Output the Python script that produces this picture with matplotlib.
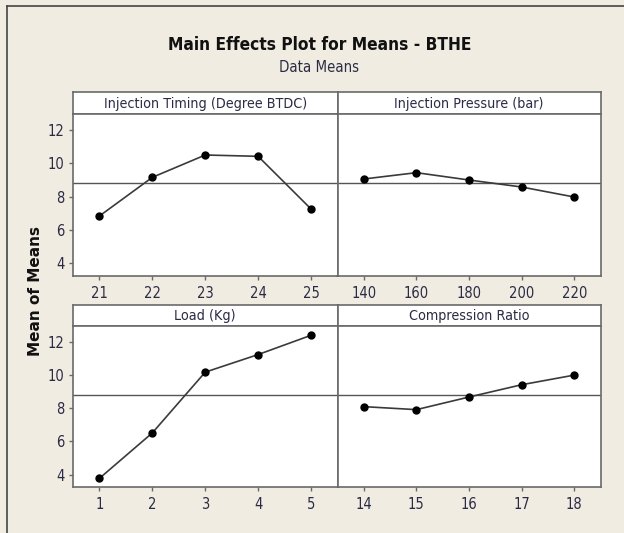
import numpy as np
import matplotlib
matplotlib.use("Agg")
import matplotlib.pyplot as plt
from matplotlib import font_manager
from matplotlib.font_manager import FontProperties
from matplotlib.lines import Line2D

# ---- data ----
timing_levels = [21, 22, 23, 24, 25]
timing_means = [6.84, 9.16, 10.50, 10.42, 7.26]
pressure_levels = [140, 160, 180, 200, 220]
pressure_means = [9.06, 9.44, 9.00, 8.58, 7.98]
load_levels = [1, 2, 3, 4, 5]
load_means = [3.78, 6.52, 10.18, 11.24, 12.40]
cr_levels = [14, 15, 16, 17, 18]
cr_means = [8.10, 7.92, 8.68, 9.42, 10.00]
factor_names = ["Injection Timing (Degree BTDC)", "Injection Pressure (bar)",
                "Load (Kg)", "Compression Ratio"]
y_ticks = [4, 6, 8, 10, 12]

grand_mean = np.mean(timing_means + pressure_means + load_means + cr_means)

# ---- pick a narrow font if one is installed ----
entries = font_manager.fontManager.ttflist
fam, stretch, is_narrow = "DejaVu Sans", "normal", False
for name, st in [("Liberation Sans Narrow", None), ("DejaVu Sans", "condensed"),
                 ("Roboto Condensed", None), ("Open Sans Condensed", None),
                 ("Noto Sans", "condensed"), ("Open Sans", "condensed")]:
    ok = [f for f in entries if f.name == name and (st is None or f.stretch == st)]
    if ok:
        fam, stretch, is_narrow = name, (st or "normal"), True
        break

def fp(size, weight="normal"):
    return FontProperties(family=fam, stretch=stretch, size=size, weight=weight)

bg = "#f0ece2"
frame_col = "#6a6a6a"
txt_col = "#2b2b45"

fig = plt.figure(figsize=(6.24, 5.33), dpi=100, facecolor=bg)
W, H = 624.0, 533.0
renderer = fig.canvas.get_renderer()

def fit(t, target, horizontal=True):
    bb = t.get_window_extent(renderer=renderer)
    cur = bb.width if horizontal else bb.height
    t.set_fontsize(t.get_fontsize() * target / cur)

def rect(x0, y0, x1, y1):
    return [x0 / W, 1 - y1 / H, (x1 - x0) / W, (y1 - y0) / H]

cols = [(73, 337.5), (337.5, 600.5)]
rows = [(92, 114, 276), (305, 326, 487.3)]

panels = [
    (timing_levels, timing_means, (20.5, 25.5)),
    (pressure_levels, pressure_means, (130, 230)),
    (load_levels, load_means, (0.5, 5.5)),
    (cr_levels, cr_means, (13.5, 18.5)),
]
tick_size = 10.5 if is_narrow else 9.0

strip_texts = []
for i, (lv, mv, xl) in enumerate(panels):
    r, c = divmod(i, 2)
    x0, x1 = cols[c]
    s0, p0, p1 = rows[r]
    sa = fig.add_axes(rect(x0, s0, x1, p0))
    sa.set_facecolor("white")
    sa.set_xticks([]); sa.set_yticks([])
    for sp in sa.spines.values():
        sp.set_color(frame_col); sp.set_linewidth(1.2)
    st_ = sa.text(0.5, 0.47, factor_names[i], ha="center", va="center",
                  fontproperties=fp(10.5), color=txt_col, transform=sa.transAxes)
    strip_texts.append(st_)
    ax = fig.add_axes(rect(x0, p0, x1, p1))
    ax.set_facecolor("white")
    for sp in ax.spines.values():
        sp.set_color(frame_col); sp.set_linewidth(1.2)
    ax.axhline(grand_mean, color="#555555", lw=1.0, zorder=1)
    ax.plot(lv, mv, color="#3a3a3a", lw=1.2, marker="o", markersize=5,
            markerfacecolor="black", markeredgecolor="black", zorder=3)
    ax.set_xlim(*xl)
    ax.set_ylim(3.24, 12.96)
    ax.set_xticks(lv)
    ax.set_xticklabels([str(v) for v in lv])
    ax.tick_params(axis="x", direction="out", length=3, width=1, color=frame_col,
                   labelcolor=txt_col, pad=4)
    if c == 0:
        ax.set_yticks(y_ticks)
        ax.tick_params(axis="y", direction="out", length=3, width=1, color=frame_col,
                       labelcolor=txt_col, pad=3)
    else:
        ax.set_yticks([])
    for lab in ax.get_xticklabels() + ax.get_yticklabels():
        lab.set_fontproperties(fp(tick_size))

# strip title size from the first strip (reference width ~190 px, taller glyphs)
fit(strip_texts[0], 205)
for t in strip_texts[1:]:
    t.set_fontsize(strip_texts[0].get_fontsize())

title = fig.text(320 / W, 1 - 45 / H, "Main Effects Plot for Means - BTHE", ha="center",
                 va="center", fontproperties=fp(14, "bold"), color="#111111")
fit(title, 305)
sub = fig.text(319 / W, 1 - 68 / H, "Data Means", ha="center", va="center",
               fontproperties=fp(10.5), color=txt_col)
fit(sub, 80)
yl = fig.text(35 / W, 1 - 291 / H, "Mean of Means", ha="center", va="center",
              rotation=90, fontsize=11, fontweight="bold", family="DejaVu Sans",
              color="#111111")
fit(yl, 130, horizontal=False)

# outer frame (top and left)
fig.add_artist(Line2D([7 / W, 7 / W], [0, 1 - 6 / H], transform=fig.transFigure,
                      color="#444444", lw=1.2))
fig.add_artist(Line2D([7 / W, 1], [1 - 6 / H, 1 - 6 / H], transform=fig.transFigure,
                      color="#444444", lw=1.2))

fig.savefig("out.png", dpi=100, facecolor=bg)
